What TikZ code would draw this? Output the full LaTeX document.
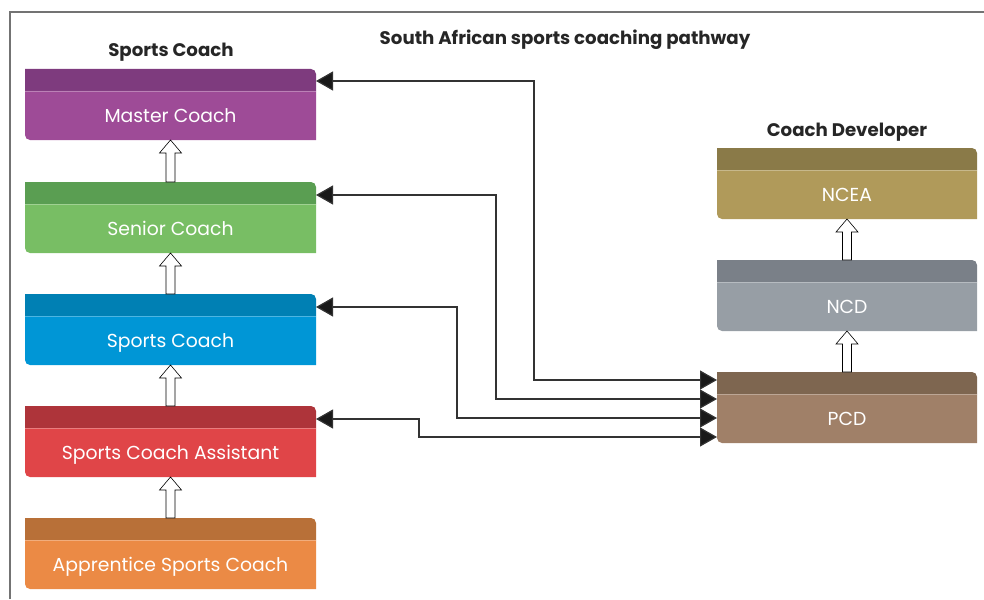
\documentclass[tikz,border=0pt]{standalone}
\usepackage{fontspec}
\setmainfont{Poppins}
\usetikzlibrary{calc,arrows.meta}
\definecolor{mH}{HTML}{7E3B7E}\definecolor{mB}{HTML}{9E4B97}
\definecolor{sH}{HTML}{5A9E52}\definecolor{sB}{HTML}{78BE64}
\definecolor{pH}{HTML}{0080B4}\definecolor{pB}{HTML}{0096D6}
\definecolor{aH}{HTML}{AE343A}\definecolor{aB}{HTML}{E04548}
\definecolor{rH}{HTML}{B87038}\definecolor{rB}{HTML}{EB8A45}
\definecolor{eH}{HTML}{8A7A48}\definecolor{eB}{HTML}{B09A5A}
\definecolor{dH}{HTML}{7A8088}\definecolor{dB}{HTML}{979EA5}
\definecolor{cH}{HTML}{7E6650}\definecolor{cB}{HTML}{A08068}
\definecolor{lineC}{HTML}{333333}
\newcommand\levelbox[7]{%
  \node[minimum width=#3, minimum height=71pt, inner sep=0pt, outer sep=0pt] (#1) at (#2) {};
  \fill[#4] (#1.north west) -- ($(#1.north east)+(-5,0)$) arc[start angle=90,end angle=0,radius=5pt]
     -- ($(#1.north east)+(0,-22)$) -- ($(#1.north west)+(0,-22)$) -- cycle;
  \fill[#5] ($(#1.north west)+(0,-22)$) -- ($(#1.north east)+(0,-22)$) -- (#1.south east)
     -- ($(#1.south west)+(5,0)$) arc[start angle=270,end angle=180,radius=5pt] -- cycle;
  \draw[white, opacity=0.3, line width=0.8pt] ($(#1.north west)+(0,-22)$) -- ($(#1.north east)+(0,-22)$);
  \node[boxtext, anchor=base] (#7) at ($(#1.north)+(0,-53)$) {#6};
}
\newcommand\hollowup[2]{%
  \draw[hollowarrow] let \p1=(#1.north), \p2=(#2.south) in
    (\x1-4.5pt,\y1) -- (\x1-4.5pt,\y2-13pt) -- (\x1-11pt,\y2-13pt) -- (\x1,\y2)
    -- (\x1+11pt,\y2-13pt) -- (\x1+4.5pt,\y2-13pt) -- (\x1+4.5pt,\y1) -- cycle;
}
\begin{document}
\begin{tikzpicture}[x=1pt,y=1pt,
  boxtext/.style={text=white, font=\fontsize{18.8}{22}\selectfont, inner sep=0pt},
  heading/.style={font=\fontsize{18.2}{22}\selectfont\bfseries, text=black!85, inner sep=0pt, anchor=base},
  hollowarrow/.style={draw=black, fill=white, line width=0.6pt, line join=miter},
  conn/.style={draw=lineC, line width=1.2pt, {Triangle[length=17pt,width=19pt,fill=black!90]}-{Triangle[length=17pt,width=19pt,fill=black!90]}}]
\useasboundingbox (0,0) rectangle (984,-599);
\draw[black!55, line width=1.5pt] (10,-599) -- (10,-12) -- (984,-12);
\node[heading] (title) at (565,-44.5) {South African sports coaching pathway};
\node[heading] (lefthead) at (171,-57) {Sports Coach};
\node[heading] (righthead) at (847,-136) {Coach Developer};
\levelbox{m}{170.5,-104.5}{291pt}{mH}{mB}{Master Coach}{mt}
\levelbox{s}{170.5,-217.5}{291pt}{sH}{sB}{Senior Coach}{st}
\levelbox{p}{170.5,-329.5}{291pt}{pH}{pB}{Sports Coach}{pt}
\levelbox{a}{170.5,-441.5}{291pt}{aH}{aB}{Sports Coach Assistant}{at}
\levelbox{r}{170.5,-553.5}{291pt}{rH}{rB}{Apprentice Sports Coach}{rt}
\levelbox{e}{847,-183.5}{260pt}{eH}{eB}{NCEA}{et}
\levelbox{d}{847,-295.5}{260pt}{dH}{dB}{NCD}{dt}
\levelbox{c}{847,-407.5}{260pt}{cH}{cB}{PCD}{ct}
\hollowup{s}{m}
\hollowup{p}{s}
\hollowup{a}{p}
\hollowup{r}{a}
\hollowup{d}{e}
\hollowup{c}{d}
\draw[conn] ([yshift=-12pt]m.north east) -| ([xshift=-183pt,yshift=-8pt]c.north west) -- ([yshift=-8pt]c.north west);
\draw[conn] ([yshift=-13pt]s.north east) -| ([xshift=-221pt,yshift=-27pt]c.north west) -- ([yshift=-27pt]c.north west);
\draw[conn] ([yshift=-13pt]p.north east) -| ([xshift=-260pt,yshift=-46pt]c.north west) -- ([yshift=-46pt]c.north west);
\draw[conn] ([yshift=-13pt]a.north east) -| ([xshift=-298pt,yshift=-65pt]c.north west) -- ([yshift=-65pt]c.north west);
\end{tikzpicture}
\end{document}
